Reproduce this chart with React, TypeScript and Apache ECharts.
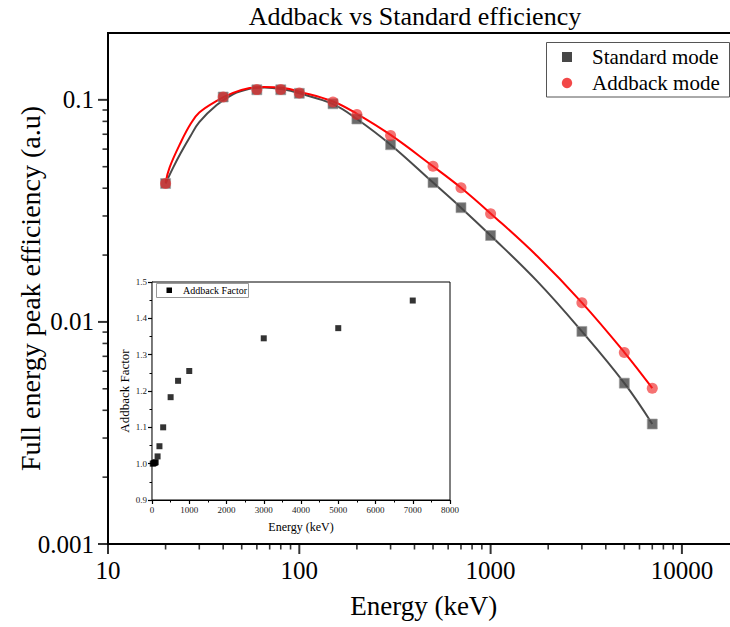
import React, { useEffect, useRef } from "react";
import * as echarts from "echarts";

// Measured energies (keV)
const energy = [20, 40, 60, 80, 100, 150, 200, 300, 500, 700, 1000, 3000, 5000, 7000];
// Full energy peak efficiency, standard mode
const standardEff = [0.042, 0.103, 0.111, 0.111, 0.107, 0.096, 0.082, 0.0628, 0.0424, 0.0327, 0.0245, 0.00906, 0.0053, 0.00347];
// Full energy peak efficiency, addback mode
const addbackEff = [0.042, 0.1031, 0.1112, 0.1113, 0.1074, 0.0979, 0.0859, 0.0691, 0.0502, 0.0402, 0.0307, 0.01219, 0.00728, 0.00503];
// Addback factor (addback / standard)
const addbackFactor = [1.0, 1.001, 1.002, 1.003, 1.004, 1.02, 1.048, 1.1, 1.183, 1.228, 1.255, 1.345, 1.373, 1.449];

// Fitted efficiency curves
const standardFitEnergy = [20, 22, 24, 27, 30, 37, 45, 55, 66, 82, 100, 150, 200, 300, 500, 700, 1000, 1750, 3000, 5000, 7000];
const standardFit = [0.042, 0.0499, 0.0576, 0.0687, 0.0794, 0.0947, 0.106, 0.1122, 0.1138, 0.1115, 0.107, 0.0957, 0.082, 0.0628, 0.0424, 0.0327, 0.0245, 0.01526, 0.00906, 0.0053, 0.00347];
const addbackFitEnergy = [20, 21, 24, 27, 30, 37, 45, 55, 65, 83, 100, 150, 200, 300, 500, 700, 1000, 1750, 3000, 5000, 7000];
const addbackFit = [0.0425, 0.0497, 0.0643, 0.0778, 0.0877, 0.099, 0.1075, 0.113, 0.1144, 0.113, 0.1089, 0.0983, 0.0865, 0.0695, 0.0502, 0.0402, 0.0308, 0.0198, 0.01222, 0.0073, 0.00503];

// Axis ticks
const xMajorTicks = [10, 100, 1000, 10000];
const yMajorTicks = [0.001, 0.01, 0.1];
const X_MIN = 10;
const X_MAX = 20000;
const Y_MIN = 0.001;
const Y_MAX = 0.2;

const SERIF = "Liberation Serif";
const GRAY = "#4a4a4a";
const RED = "#ff0000";

function minorLogTicks(decades: number[], lo: number, hi: number): number[] {
  const out: number[] = [];
  decades.forEach((d) => {
    for (let k = 2; k <= 9; k++) {
      const v = k * d;
      if (v > lo && v < hi) out.push(v);
    }
  });
  return out;
}

// Tick marks on the main log axes, drawn as thin bar symbols positioned by the axes' scales
function tickMarks(name: string, data: number[][], size: number[], offset: (string | number)[]) {
  return {
    type: "scatter",
    name,
    xAxisIndex: 0,
    yAxisIndex: 0,
    data,
    symbol: "rect",
    symbolSize: size,
    symbolOffset: offset,
    clip: false,
    silent: true,
    itemStyle: { color: "#000" },
    emphasis: { disabled: true },
    z: 12,
  };
}

export default function App() {
  const ref = useRef<HTMLDivElement>(null);

  useEffect(() => {
    document.body.style.margin = "0";
    document.body.style.overflow = "hidden";
    if (!ref.current) return;
    const chart = echarts.init(ref.current, undefined, { renderer: "svg" });

    const xMinor = minorLogTicks([10, 100, 1000, 10000], X_MIN, X_MAX);
    const yMinor = minorLogTicks([0.001, 0.01, 0.1], Y_MIN, Y_MAX);

    const legend: any[] = [
      // main legend
      {
        type: "rect",
        shape: { x: 546.5, y: 42.5, width: 183, height: 54.5 },
        style: { fill: "#fff", stroke: "#555", lineWidth: 1 },
        z: 10,
      },
      { type: "rect", shape: { x: 562, y: 52, width: 10, height: 10 }, style: { fill: "#474747" }, z: 11 },
      { type: "circle", shape: { cx: 567, cy: 83, r: 5.2 }, style: { fill: "rgba(240,40,40,0.85)" }, z: 11 },
      {
        type: "text",
        x: 592,
        y: 57,
        style: { text: "Standard mode", font: `21px "${SERIF}"`, fill: "#000", verticalAlign: "middle" },
        z: 11,
      },
      {
        type: "text",
        x: 592,
        y: 83,
        style: { text: "Addback mode", font: `21px "${SERIF}"`, fill: "#000", verticalAlign: "middle" },
        z: 11,
      },
      // inset legend
      {
        type: "rect",
        shape: { x: 156.5, y: 283.5, width: 92, height: 14 },
        style: { fill: "#fff", stroke: "#999", lineWidth: 1 },
        z: 10,
      },
      { type: "rect", shape: { x: 166.5, y: 287.5, width: 5.5, height: 5.5 }, style: { fill: "#000" }, z: 11 },
      {
        type: "text",
        x: 183,
        y: 290.5,
        style: { text: "Addback Factor", font: `10px "${SERIF}"`, fill: "#000", verticalAlign: "middle" },
        z: 11,
      },
    ];

    const option: any = {
      animation: false,
      backgroundColor: "#fff",
      title: {
        text: "Addback vs Standard efficiency",
        left: 410,
        top: -2,
        textAlign: "center",
        textStyle: { fontFamily: SERIF, fontSize: 26, fontWeight: "normal", color: "#000" },
      },
      grid: [
        {
          left: 108,
          top: 33,
          right: 10.5,
          bottom: 83,
          outerBoundsMode: "none",
          containLabel: false,
          show: true,
          borderColor: "#000",
          borderWidth: 2,
          backgroundColor: "transparent",
        },
        {
          left: 152,
          top: 282,
          right: 300,
          bottom: 127,
          outerBoundsMode: "none",
          containLabel: false,
          show: true,
          borderColor: "#000",
          borderWidth: 1,
          backgroundColor: "#fff",
          z: 3,
        },
      ],
      xAxis: [
        {
          type: "log",
          gridIndex: 0,
          min: X_MIN,
          max: X_MAX,
          logBase: 10,
          name: "Energy (keV)",
          nameLocation: "middle",
          nameGap: 48,
          nameMoveOverlap: false,
          nameTextStyle: { fontFamily: SERIF, fontSize: 27, color: "#000" },
          axisLine: { lineStyle: { color: "#000", width: 2 } },
          axisTick: { show: false },
          axisLabel: {
            customValues: xMajorTicks,
            margin: 14,
            fontFamily: SERIF,
            fontSize: 25,
            color: "#000",
            formatter: (v: number) => String(Math.round(v)),
          },
          splitLine: { show: false },
        },
        {
          type: "value",
          gridIndex: 1,
          min: 0,
          max: 8000,
          interval: 1000,
          name: "Energy (keV)",
          nameLocation: "middle",
          nameGap: 21,
          nameMoveOverlap: false,
          nameTextStyle: { fontFamily: SERIF, fontSize: 12, color: "#000" },
          axisLine: { onZero: false, lineStyle: { color: "#000", width: 1.2 } },
          axisTick: { show: true, inside: false, length: 4, lineStyle: { color: "#000", width: 1.2 } },
          minorTick: { show: true, splitNumber: 2, length: 2.5, lineStyle: { color: "#000", width: 1 } },
          axisLabel: {
            margin: 5,
            fontFamily: SERIF,
            fontSize: 9,
            color: "#222",
            formatter: (v: number) => String(v),
          },
          splitLine: { show: false },
        },
      ],
      yAxis: [
        {
          type: "log",
          gridIndex: 0,
          min: Y_MIN,
          max: Y_MAX,
          logBase: 10,
          name: "Full energy peak efficiency (a.u)",
          nameLocation: "middle",
          nameGap: 64,
          nameMoveOverlap: false,
          nameTextStyle: { fontFamily: SERIF, fontSize: 28, color: "#000" },
          axisLine: { lineStyle: { color: "#000", width: 2 } },
          axisTick: { show: false },
          axisLabel: {
            customValues: yMajorTicks,
            margin: 14,
            fontFamily: SERIF,
            fontSize: 25,
            color: "#000",
            formatter: (v: number) => (v >= 0.1 ? "0.1" : v >= 0.01 ? "0.01" : "0.001"),
          },
          splitLine: { show: false },
        },
        {
          type: "value",
          gridIndex: 1,
          min: 0.9,
          max: 1.5,
          interval: 0.1,
          name: "Addback Factor",
          nameLocation: "middle",
          nameGap: 21,
          nameMoveOverlap: false,
          nameTextStyle: { fontFamily: SERIF, fontSize: 13, color: "#000" },
          axisLine: { onZero: false, lineStyle: { color: "#000", width: 1.2 } },
          axisTick: { show: true, inside: false, length: 4, lineStyle: { color: "#000", width: 1.2 } },
          minorTick: { show: true, splitNumber: 2, length: 2.5, lineStyle: { color: "#000", width: 1 } },
          axisLabel: {
            margin: 5,
            fontFamily: SERIF,
            fontSize: 9,
            color: "#222",
            formatter: (v: number) => v.toFixed(1),
          },
          splitLine: { show: false },
        },
      ],
      series: [
        {
          type: "line",
          name: "Standard fit",
          xAxisIndex: 0,
          yAxisIndex: 0,
          data: standardFitEnergy.map((e, i) => [e, standardFit[i]]),
          smooth: 0.4,
          showSymbol: false,
          symbol: "none",
          lineStyle: { color: GRAY, width: 2 },
          z: 2,
        },
        {
          type: "line",
          name: "Addback fit",
          xAxisIndex: 0,
          yAxisIndex: 0,
          data: addbackFitEnergy.map((e, i) => [e, addbackFit[i]]),
          smooth: 0.4,
          showSymbol: false,
          symbol: "none",
          lineStyle: { color: RED, width: 2 },
          z: 2,
        },
        {
          type: "scatter",
          name: "Standard mode",
          xAxisIndex: 0,
          yAxisIndex: 0,
          data: energy.map((e, i) => [e, standardEff[i]]),
          symbol: "rect",
          symbolSize: 10,
          itemStyle: { color: "#474747", borderColor: "rgba(160,160,160,0.8)", borderWidth: 1 },
          z: 3,
        },
        {
          type: "scatter",
          name: "Addback mode",
          xAxisIndex: 0,
          yAxisIndex: 0,
          data: energy.map((e, i) => [e, addbackEff[i]]),
          symbol: "circle",
          symbolSize: 11,
          itemStyle: { color: "rgba(240,40,40,0.82)" },
          z: 4,
        },
        {
          type: "scatter",
          name: "Addback Factor",
          xAxisIndex: 1,
          yAxisIndex: 1,
          data: energy.map((e, i) => [e, addbackFactor[i]]),
          symbol: "rect",
          symbolSize: 6,
          itemStyle: { color: "#000" },
          z: 6,
        },
        tickMarks("xMajorTicks", xMajorTicks.map((v) => [v, Y_MIN]), [2, 10], [0, "50%"]),
        tickMarks("xMinorTicks", xMinor.map((v) => [v, Y_MIN]), [1.6, 5.5], [0, "50%"]),
        tickMarks("yMajorTicks", yMajorTicks.map((v) => [X_MIN, v]), [10, 2], ["-50%", 0]),
        tickMarks("yMinorTicks", yMinor.map((v) => [X_MIN, v]), [5.5, 1.6], ["-50%", 0]),
      ],
      graphic: legend,
    };

    chart.setOption(option);
    return () => chart.dispose();
  }, []);

  return (
    <div style={{ position: "fixed", left: 0, top: 0, width: 730, height: 627, overflow: "hidden", background: "#fff" }}>
      <div ref={ref} style={{ width: 750, height: 627 }} />
    </div>
  );
}
